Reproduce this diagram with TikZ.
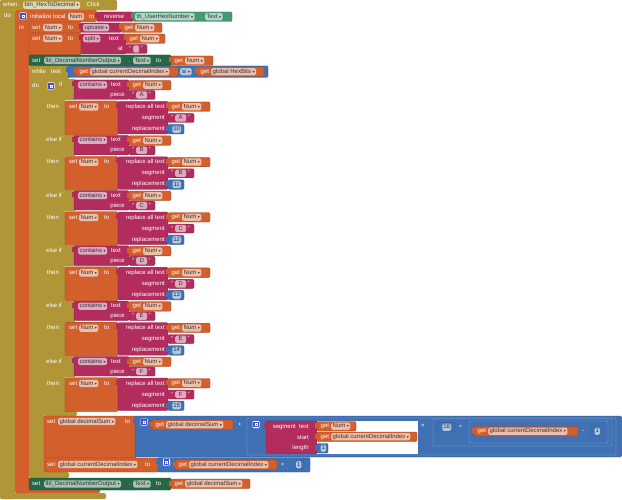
\documentclass[tikz,border=0pt]{standalone}
\usepackage{fontspec}
\usepackage{tikz}
\newfontfamily\blkfont{Liberation Sans}
\newfontfamily\arrfont{DejaVu Sans}
\definecolor{ctrl}{RGB}{177,150,56}
\definecolor{vars}{RGB}{210,95,44}
\definecolor{txt}{RGB}{178,44,94}
\definecolor{mth}{RGB}{64,113,180}
\definecolor{cset}{RGB}{38,103,70}
\definecolor{cget}{RGB}{69,153,113}
\definecolor{mut}{RGB}{70,80,200}

\newcommand{\dd}{\hspace{1.5pt}{\arrfont\fontsize{4}{4}\selectfont ▾}}

\tikzset{
  lbl/.style={text=white, inner sep=0pt, anchor=west, text height=4.4pt, text depth=1.3pt,
    font=\blkfont\fontsize{6}{7}\selectfont},
  fld/.style={fill=white, fill opacity=.6, text opacity=1, text=black!80, rounded corners=1.5pt,
    inner xsep=1.5pt, inner ysep=.8pt, anchor=west, text height=4.4pt, text depth=1.3pt,
    font=\blkfont\fontsize{6}{7}\selectfont},
  blkline/.style={line width=.3pt, rounded corners=1.2pt}
}

% plain block and value block (with output tab)
\newcommand{\blk}[5]{\filldraw[blkline, fill=#1, draw=#1!75!black] (#2,#3) rectangle (#4,#5);}
\newcommand{\vblk}[5]{\blk{#1}{#2}{#3}{#4}{#5}\fill[#1] (#2-2.5,#3+1.5) rectangle (#2+.4,#3+6.5);}
% get variable: x, top, right, name
\newcommand{\getb}[4]{\vblk{vars}{#1}{#2}{#3}{#2+9.5}%
  \node[lbl] at (#1+3.5,#2+4.75) {get};\node[fld] at (#1+14,#2+4.75) {#4\dd};}
% text literal: x, top, letter, width
\newcommand{\strb}[4]{\vblk{txt}{#1}{#2}{#1+#4}{#2+9}%
  \node[lbl] at (#1+3,#2+4.5) {“};
  \node[fld, minimum width={(#4-15)*1pt}, inner xsep=.5pt, align=center] at (#1+7,#2+4.5) {#3};
  \node[lbl] at (#1+#4-6.5,#2+4.5) {”};}
% number: x, top, right, value
\newcommand{\numb}[4]{\vblk{mth}{#1}{#2}{#3}{#2+9.5}%
  \node[fld, anchor=center, inner xsep=1pt] at ({(#1+#3)/2+.7},#2+4.75) {#4};}
% mutator gear icon
\newcommand{\mutr}[2]{\fill[white, rounded corners=.8pt] (#1,#2) rectangle +(7,7);
  \fill[mut] (#1+.8,#2+.8) rectangle +(5.4,5.4);
  \draw[white, line width=.5pt] (#1+2.3,#2+2.3) rectangle +(2.4,2.4);}
% one if/else-if arm: top, letter, number
\newcommand{\clause}[3]{%
  \fill[ctrl] (44,#1-.5) rectangle (75,#1+20.5);
  \vblk{txt}{74}{#1}{129}{#1+19.5}
  \node[fld] at (78,#1+5) {contains\dd};
  \node[lbl] at (111,#1+5) {text};
  \node[lbl, anchor=east] at (125,#1+15) {piece};
  \getb{129}{#1+.5}{171}{Num}
  \strb{129}{#1+10.5}{#2}{26}
  \node[lbl] at (47,#1+27) {then};
  \blk{vars}{65}{#1+21}{118}{#1+55}
  \node[lbl] at (69,#1+27) {set};
  \node[fld] at (79,#1+27) {Num\dd};
  \node[lbl] at (104,#1+27) {to};
  \vblk{txt}{118}{#1+21.5}{168}{#1+54}
  \node[lbl, anchor=east] at (165,#1+27) {replace all text};
  \node[lbl, anchor=east] at (165,#1+38) {segment};
  \node[lbl, anchor=east] at (165,#1+49) {replacement};
  \getb{168}{#1+22}{210}{Num}
  \strb{168}{#1+33.5}{#2}{26}
  \numb{168}{#1+44.5}{184}{#3}}

\begin{document}
\begin{tikzpicture}[x=1pt, y=-1pt]
\useasboundingbox (0,0) rectangle (622,500);
\fill[white] (0,0) rectangle (622,500);

% when ... do
\fill[ctrl, rounded corners=1.5pt] (0,0) rectangle (117,10.5);
\fill[ctrl, rounded corners=1.5pt] (0,0) rectangle (15,499);
\fill[ctrl, rounded corners=1.5pt] (0,493) rectangle (106,499);
\node[lbl] at (3,5.2) {when};
\node[fld] at (23,5.2) {btn\_HexToDecimal\dd};
\node[lbl] at (85,5.2) {.Click};
\node[lbl] at (4,16) {do};

% initialize local
\fill[vars, rounded corners=1.5pt] (15,10) rectangle (97,22);
\fill[vars, rounded corners=1.5pt] (15,10) rectangle (29,493);
\fill[vars, rounded corners=1.5pt] (15,489) rectangle (100,493);
\mutr{19.5}{12.5}
\node[lbl] at (30,16.5) {initialize local};
\node[fld] at (68,16.5) {Num};
\node[lbl] at (89,16.5) {to};
\node[lbl] at (19,27.5) {in};
\vblk{txt}{97}{12}{133}{21.5}
\node[lbl] at (104,16.7) {reverse};
\vblk{cget}{133}{12}{232}{21.5}
\node[fld] at (135,16.7) {tb\_UserHexNumber\dd};
\node[lbl] at (201,16.7) {.};
\node[fld] at (205,16.7) {Text\dd};

% set Num to upcase
\blk{vars}{29}{22}{81}{33}
\node[lbl] at (32,27.5) {set};
\node[fld] at (43,27.5) {Num\dd};
\node[lbl] at (68,27.5) {to};
\vblk{txt}{81}{23}{121}{32.5}
\node[fld] at (83,27.7) {upcase\dd};
\getb{121}{23}{162}{Num}

% set Num to split
\blk{vars}{29}{33}{81}{55}
\node[lbl] at (32,38.5) {set};
\node[fld] at (43,38.5) {Num\dd};
\node[lbl] at (68,38.5) {to};
\vblk{txt}{81}{34}{126}{54}
\node[fld] at (83,38.8) {split\dd};
\node[lbl] at (109,38.8) {text};
\node[lbl, anchor=east] at (123,49) {at};
\getb{126}{34}{165}{Num}
\strb{126}{44.5}{}{21}

% set label text
\blk{cset}{29}{55}{171}{66}
\node[lbl] at (32,60.5) {set};
\node[fld] at (44,60.5) {lbl\_DecimalNumberOutput\dd};
\node[lbl] at (129,60.5) {.};
\node[fld] at (133,60.5) {Text\dd};
\node[lbl] at (156,60.5) {to};
\getb{171}{56}{213}{Num}

% while
\fill[ctrl, rounded corners=1.5pt] (29,66) rectangle (69,80);
\fill[ctrl, rounded corners=1.5pt] (29,66) rectangle (44,478);
\fill[ctrl, rounded corners=1.5pt] (29,472) rectangle (69,478);
\node[lbl] at (32,71.8) {while};
\node[lbl] at (51,71.8) {test};
\node[lbl] at (32,86) {do};
\vblk{mth}{68}{66}{268}{77.5}
\getb{76}{67}{178}{global currentDecimalIndex}
\node[fld] at (180,71.8) {{\arrfont ≤}\dd};
\getb{197}{67}{264}{global HexBits}

% if / else if
\fill[ctrl, rounded corners=1.5pt] (44,80) rectangle (65,416);
\fill[ctrl, rounded corners=1.5pt] (44,411) rectangle (77,416);
\clause{80}{A}{10}
\clause{135.3}{B}{11}
\clause{190.6}{C}{12}
\clause{245.9}{D}{13}
\clause{301.2}{E}{14}
\clause{356.5}{F}{15}
\mutr{47.5}{82.5}
\node[lbl] at (59,85) {if};
\foreach \b in {135.3,190.6,245.9,301.2,356.5}
  \node[lbl] at (46,\b+5) {else if};

% decimalSum
\blk{vars}{44}{416}{136}{458}
\node[lbl] at (47,421.5) {set};
\node[fld] at (58,421.5) {global decimalSum\dd};
\node[lbl] at (125,421.5) {to};
\vblk{mth}{135}{416}{621.6}{457}
\mutr{140.5}{418.5}
\getb{152}{420}{233}{global decimalSum}
\node[lbl] at (238,425) {+};
\filldraw[blkline, fill=mth, draw=mth!60!white] (247,418) rectangle (616,455);
\mutr{252.5}{421}
\vblk{txt}{266}{421}{317}{453.5}
\fill[white] (317,421) rectangle (418,454);
\node[lbl, anchor=east] at (309,426.5) {segment\ \ text};
\node[lbl, anchor=east] at (309,437.5) {start};
\node[lbl, anchor=east] at (309,448) {length};
\getb{317}{421.5}{356}{Num}
\getb{317}{432}{417}{global currentDecimalIndex}
\numb{317}{443.5}{328}{1}
\node[lbl] at (421,426) {×};
\filldraw[blkline, fill=mth, draw=mth!60!white] (433,418.5) rectangle (612,446);
\numb{437}{422.5}{455}{16}
\node[lbl] at (459,427.5) {\textasciicircum};
\filldraw[blkline, fill=mth, draw=mth!60!white] (469,421) rectangle (608,443);
\getb{474}{426.5}{578}{global currentDecimalIndex}
\node[lbl] at (582,431) {-};
\numb{590}{426.5}{603}{1}

% currentDecimalIndex
\blk{vars}{44}{458}{159}{472}
\node[lbl] at (47,464.5) {set};
\node[fld] at (58,464.5) {global currentDecimalIndex\dd};
\node[lbl] at (145,464.5) {to};
\vblk{mth}{158}{457.5}{310}{472}
\mutr{163}{458.5}
\getb{175}{460}{277}{global currentDecimalIndex}
\node[lbl] at (281,465) {+};
\numb{292}{460}{304}{1}

% final output
\blk{cset}{29}{478}{171}{490}
\node[lbl] at (32,484) {set};
\node[fld] at (44,484) {lbl\_DecimalNumberOutput\dd};
\node[lbl] at (129,484) {.};
\node[fld] at (133,484) {Text\dd};
\node[lbl] at (156,484) {to};
\getb{171}{479}{250}{global decimalSum}
\end{tikzpicture}
\end{document}
